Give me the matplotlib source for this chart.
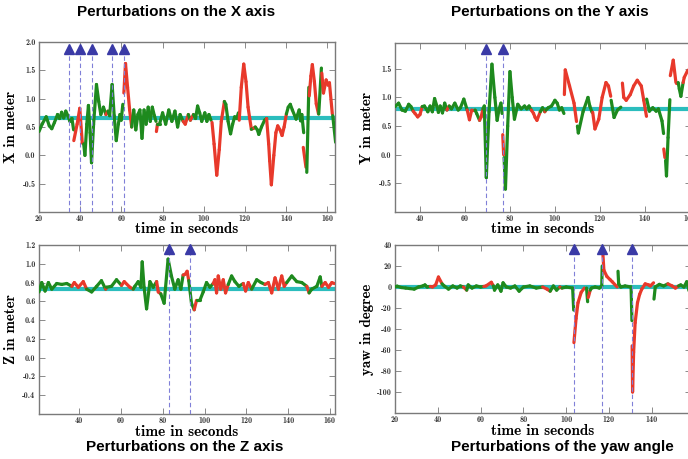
import matplotlib
matplotlib.use('Agg')
import matplotlib.pyplot as plt
from matplotlib.collections import LineCollection
from matplotlib.ticker import FormatStrFormatter

plt.rcParams['axes.unicode_minus'] = False

GREEN = '#1e8a1e'
RED = '#e8392b'
CYAN = '#2bbdbd'
BLUE = '#3a3aa6'
DASH = '#8080d8'

# colour codes per point: g / r continue the trace, G / R start a new piece

# ---- X axis
x_time = [20.0, 21.5, 23.5, 25.0, 26.2, 27.5, 29.0, 30.0, 31.0, 32.0, 33.0, 34.0, 35.0, 36.0, 36.8,
          36.9, 38.5, 39.8, 41.0, 41.7, 42.3, 43.2, 44.0, 44.8, 45.5, 46.5, 47.9, 49.0, 50.0, 51.3,
          52.5, 53.5, 54.3, 55.5, 56.5, 57.5, 58.5, 59.3, 59.9, 60.7,
          61.2, 62.0, 63.0, 64.0, 65.0, 66.0, 67.0, 68.0, 69.0, 70.0, 71.0, 72.0, 73.0, 74.0, 75.0,
          76.0, 76.8, 77.0, 77.5, 78.5, 80.0, 81.5, 83.0, 84.5, 86.0, 87.3, 88.5, 90.0, 91.0, 92.5,
          93.5, 95.0, 96.0, 97.0, 98.0, 99.0, 100.5, 101.5, 102.5, 103.5,
          104.0, 105.0, 106.3, 107.5, 108.5, 110.0, 110.7, 111.8, 113.0, 114.0, 115.0, 116.0, 116.8,
          117.2, 118.2, 119.4, 120.5, 121.5, 122.3, 123.1, 124.3, 125.0, 126.0, 126.7, 128.0, 129.5,
          130.5, 131.5, 132.0, 132.8, 134.0, 135.0, 135.9, 137.0, 138.0, 139.0, 140.1, 141.0, 142.0,
          143.0, 144.8, 146.3, 147.0, 147.6, 148.5,
          148.3, 149.6, 150.0, 151.0, 151.2, 152.0, 152.7, 153.7, 154.6, 155.7,
          155.8, 157.1, 157.3, 158.1, 159.4, 160.3, 161.0, 162.4, 162.6, 164.0]
x_value = [0.42, 0.55, 0.68, 0.52, 0.47, 0.58, 0.72, 0.65, 0.76, 0.66, 0.78, 0.70, 0.60, 0.65, 0.45,
           0.26, 0.55, 0.83, 0.22, 0.20, 0.00, 0.55, 0.88, 0.40, -0.13, 0.55, 1.25, 0.95, 0.72, 0.85,
           0.72, 0.78, 0.70, 1.25, 0.70, 0.26, 0.55, 0.72, 0.62, 0.90,
           1.10, 1.62, 1.20, 0.80, 0.50, 0.80, 0.45, 0.72, 0.80, 0.30, 0.80, 0.55, 0.85, 0.60, 0.85,
           0.70, 0.60, 0.42, 0.55, 0.55, 0.75, 0.55, 0.80, 0.60, 0.78, 0.50, 0.72, 0.60, 0.55, 0.72,
           0.62, 0.72, 0.65, 0.87, 0.75, 0.60, 0.75, 0.60, 0.72, 0.62,
           0.58, 0.20, -0.35, 0.10, 0.60, 0.95, 0.90, 0.60, 0.38, 0.55, 0.68, 0.65, 0.75,
           0.62, 1.20, 1.61, 1.30, 0.85, 0.65, 0.46, 0.48, 0.50, 0.45, 0.37, 0.50, 0.62,
           0.65, 0.20, -0.10, -0.52, 0.00, 0.40, 0.52, 0.45, 0.35, 0.50, 0.73, 0.85, 0.90,
           0.80, 0.64, 0.80, 0.61, 0.72, 0.40,
           0.14, -0.21, -0.30, 1.20, 1.05, 1.40, 1.60, 1.30, 0.91, 0.73,
           0.73, 1.54, 1.45, 1.10, 1.33, 1.24, 1.28, 0.73, 0.70, 0.23]
x_color = ('G' + 'g' * 14
           + 'R' + 'r' * 4 + 'g' * 10
           + 'gr' + 'g' * 8
           + 'R' + 'r' * 4 + 'g' * 10
           + 'ggRr' + 'g' * 9 + 'rr'
           + 'gr' + 'g' * 8
           + 'R' + 'r' * 5 + 'g' * 7
           + 'R' + 'r' * 6 + 'gr' + 'g' * 4
           + 'g' + 'r' * 10 + 'gg'
           + 'g' * 6
           + 'RrGgR' + 'r' * 5
           + 'GgR' + 'r' * 5 + 'Gg')
x_ref = 0.66
x_marks = [34.5, 40.0, 45.5, 55.5, 61.5]

# ---- Y axis
y_time = [29.0, 30.5, 32.0, 33.5, 35.0, 36.0, 37.0, 37.8, 39.0, 40.0, 41.0, 42.0, 43.5, 44.5, 45.5,
          46.5, 47.5, 48.2, 49.0, 50.0, 51.0, 52.0, 53.0, 54.0, 55.5, 57.0, 58.0, 59.5, 61.0, 62.0,
          63.0, 64.5, 65.2, 66.5, 67.2, 68.0, 68.6, 69.5, 70.7, 72.0, 73.3, 74.3, 75.2, 76.0, 76.5,
          76.8, 77.2, 77.4, 78.0, 79.0, 80.0, 81.0, 82.0, 83.5, 85.0, 86.5, 87.5, 88.5, 89.5, 90.5,
          91.2, 92.0, 93.5, 94.5, 95.5, 96.0, 97.0, 98.5, 100.0, 101.0, 102.0, 103.0, 104.0,
          104.2, 104.6, 106.5, 108.5, 109.6, 110.0, 110.4, 112.5, 114.7, 115.5, 116.5,
          116.8, 117.8, 119.5, 121.0, 122.7, 123.8, 124.8, 125.0, 126.3, 127.8, 129.3,
          130.0, 130.6, 131.7, 133.5, 135.0, 136.6, 138.4, 139.5, 140.7,
          140.8, 142.0, 143.5, 145.0, 146.0, 147.6, 148.3, 148.4, 148.9,
          149.2, 149.6, 150.3, 151.1, 151.3, 152.6, 153.8, 154.8, 155.3, 156.0, 157.0, 157.5, 158.9, 160.5]
y_value = [0.84, 0.90, 0.78, 0.76, 0.88, 0.84, 0.76, 0.72, 0.66, 0.70, 0.84, 0.85, 0.75, 0.85, 0.75,
           0.98, 0.85, 0.74, 0.85, 0.73, 0.90, 0.78, 0.85, 0.80, 0.90, 0.78, 0.82, 0.97, 0.78, 0.61,
           0.78, 0.78, 0.72, 0.60, 0.66, 0.80, 0.85, -0.40, 0.75, 1.58, 1.00, 0.60, 0.80, 0.90, 0.72,
           0.35, 0.00, -0.05, -0.60, 0.50, 1.45, 1.00, 0.62, 0.88, 0.80, 0.85, 0.80, 0.85, 0.78, 0.72,
           0.65, 0.60, 0.75, 0.82, 0.75, 0.78, 0.82, 0.85, 0.95, 0.90, 0.78, 0.82, 0.72,
           1.05, 1.48, 1.20, 0.90, 0.58, 0.50, 0.38, 0.75, 1.00, 0.85, 0.74,
           0.74, 0.45, 0.62, 1.00, 1.26, 1.20, 1.02, 0.95, 0.65, 0.78, 0.83,
           1.25, 1.00, 0.95, 1.05, 1.20, 1.30, 1.20, 0.95, 0.67,
           0.97, 0.76, 0.82, 0.76, 0.80, 0.59, 0.37, 0.10, -0.05,
           -0.10, -0.37, 0.30, 0.96, 1.38, 1.65, 1.26, 1.26, 1.15, 1.02, 1.26, 1.35, 1.46, 1.52]
y_color = ('G' + 'g' * 6 + 'r' * 4 + 'g' * 4
           + 'g' * 7 + 'r' + 'g' * 6 + 'r'
           + 'rrggrr' + 'g' * 9
           + 'RrG' + 'g' * 11 + 'r'
           + 'rrrggr' + 'g' * 7
           + 'R' + 'r' * 4 + 'G' + 'g' * 5
           + 'R' + 'r' * 6 + 'G' + 'g' * 3
           + 'R' + 'r' * 8
           + 'G' + 'g' * 6 + 'Rr'
           + 'G' + 'g' * 3 + 'R' + 'r' * 3 + 'g' * 3 + 'r' * 3)
y_ref = 0.80
y_marks = [69.2, 76.8]

# ---- Z axis
z_time = [20.7, 22.0, 23.6, 25.2, 26.8, 29.2, 31.6, 34.0, 36.4, 37.6, 39.5, 41.9, 43.5, 45.9, 48.3,
          50.6, 52.6, 53.0, 55.4, 57.8, 60.2, 61.5, 64.2, 65.8, 66.6, 68.2, 69.5, 70.1, 71.0, 72.2,
          73.8, 75.4, 77.0, 77.8, 79.0, 80.6, 82.5, 84.1, 85.7, 87.3, 88.6, 89.7, 90.8, 91.6, 92.4,
          93.7, 95.0, 96.1, 97.7, 99.3, 100.9, 102.5, 104.1, 104.9, 105.7, 106.5, 107.7, 108.9, 110.0,
          111.3, 112.9, 114.5, 116.4, 118.5, 119.6, 120.9, 122.5, 124.9, 127.0, 128.9, 130.5, 132.1,
          133.7, 135.3, 136.9, 138.1, 139.3, 141.7, 144.1, 146.5, 148.9, 150.0, 151.3, 153.7, 155.3,
          156.1, 157.7, 159.3, 160.9, 162.0]
z_value = [0.70, 0.80, 0.71, 0.80, 0.73, 0.79, 0.78, 0.79, 0.76, 0.80, 0.75, 0.81, 0.73, 0.70, 0.76,
           0.82, 0.73, 0.75, 0.76, 0.83, 0.77, 0.81, 0.75, 0.73, 0.76, 0.81, 0.75, 1.02, 0.75, 0.52,
           0.81, 0.75, 0.81, 0.70, 0.68, 0.58, 1.05, 0.87, 0.73, 0.83, 0.73, 0.88, 0.89, 0.92, 0.82,
           0.58, 0.51, 0.61, 0.61, 0.70, 0.80, 0.75, 0.79, 0.83, 0.69, 0.87, 0.73, 0.83, 0.69,
           0.78, 0.87, 0.81, 0.76, 0.79, 0.71, 0.80, 0.73, 0.83, 0.80, 0.78, 0.80, 0.69,
           0.85, 0.73, 0.87, 0.76, 0.80, 0.87, 0.81, 0.80, 0.76, 0.69, 0.73, 0.76, 0.86,
           0.76, 0.80, 0.75, 0.80, 0.79]
z_color = ('G' + 'g' * 8 + 'r' * 4 + 'gg'
           + 'ggrgggrrr' + 'g' * 6
           + 'gggrr' + 'g' * 7 + 'rrr'
           + 'ggr' + 'g' * 5 + 'r' * 6
           + 'r' + 'g' * 4 + 'rrrgggrr'
           + 'r' * 5 + 'g' * 4 + 'rggg'
           + 'grrrr')
z_ref = 0.73
z_marks = [83.0, 93.0]

# ---- yaw angle
w_time = [20.0, 21.0, 23.0, 25.0, 27.0, 29.0, 31.0, 33.0, 34.0, 35.0, 36.5, 37.5, 39.0, 40.3, 42.0,
          43.0, 45.0, 47.0, 49.0, 50.5, 52.0, 53.5, 54.2, 56.0, 58.0, 60.0, 61.5, 62.5, 65.0, 66.0,
          66.5, 68.0, 69.5, 70.5, 72.0, 74.0, 76.0, 78.0, 80.0, 83.0, 86.0, 89.0, 91.0, 92.5, 94.0,
          95.5, 97.0, 98.0, 100.0, 103.0, 103.5,
          103.6, 104.6, 105.5, 107.0, 108.5, 109.5, 110.0, 110.3, 111.2, 111.8, 113.5, 115.5, 116.6,
          116.8, 117.0, 117.6, 119.0, 120.5, 121.5, 123.8, 124.2, 124.5, 125.5, 127.5, 130.3, 130.7,
          130.8, 131.0, 131.5, 132.2, 133.3, 134.3, 135.3, 136.9, 138.5, 139.3, 140.8,
          141.0, 141.6, 143.5, 145.5, 147.5, 149.5, 151.0, 152.5, 153.5, 155.0, 156.3, 157.8]
w_value = [0.0, 0.8, -0.5, -1.0, -1.5, -2.0, 0.0, 1.0, 2.0, 0.0, 0.5, 0.0, 2.0, 9.5, 3.0,
           1.0, -2.0, 1.0, -1.0, 1.0, 0.0, -3.0, 2.0, -1.0, 1.0, 0.0, 0.5, 1.0, 4.5, 1.0,
           -3.0, 2.0, -4.0, 4.0, 0.0, -1.0, 1.0, -4.0, 0.0, 1.0, -1.0, 0.0, -2.0, -4.0, 1.0,
           -3.0, 0.0, -1.0, 0.0, -1.0, -22.0,
           -53.0, -30.0, -15.0, -5.0, -1.0, -1.0, -14.0, -10.0, -3.0, -1.0, 0.0, -1.0, 1.0,
           20.0, 36.0, 16.0, 10.0, 7.0, 5.0, 0.0, 15.0, 3.0, 0.0, 1.0, 0.0, -32.0,
           -56.0, -100.0, -62.0, -34.0, -15.0, -7.0, -2.0, 3.0, 2.0, 1.0, 4.0,
           -11.5, 0.0, 2.5, 1.0, 3.0, 1.0, -1.0, 1.0, 2.0, 0.0, 5.0, -7.0]
w_color = ('G' + 'g' * 10 + 'r' * 4
           + 'g' * 6 + 'r' + 'g' * 5 + 'rrr'
           + 'g' * 12 + 'rrg'
           + 'ggrggg'
           + 'R' + 'r' * 4 + 'GgRr' + 'g' * 4
           + 'gR' + 'r' * 5 + 'G' + 'g' * 5
           + 'R' + 'r' * 10
           + 'G' + 'g' * 4 + 'r' * 3 + 'g' * 4)
w_ref = 0.0
w_marks = [103.5, 116.8, 130.9]


def px_axes(fig, left, top, right, bottom):
    W, H = 688.0, 459.0
    return fig.add_axes([left / W, 1 - bottom / H, (right - left) / W, (bottom - top) / H])


def draw_trace(ax, t, v, codes):
    segs, cols = [], []
    for i in range(1, len(t)):
        if codes[i].isupper():
            continue
        segs.append([(t[i - 1], v[i - 1]), (t[i], v[i])])
        cols.append(GREEN if codes[i] == 'g' else RED)
    lc = LineCollection(segs, colors=cols, linewidths=2.3, capstyle='round',
                        joinstyle='round', zorder=3)
    ax.add_collection(lc)


def style(ax, xlim, ylim, xticks, yticks, fmt, ylabel, mark_y, marks, ref, xlab_y, t, v, c):
    ax.axhline(ref, color=CYAN, lw=3, zorder=2)
    draw_trace(ax, t, v, c)
    for m in marks:
        ax.axvline(m, ymax=mark_y, color=DASH, lw=0.8, ls=(0, (4, 2.5)), zorder=4)
        ax.plot([m], [mark_y], marker='^', ms=7.5, color=BLUE, mec=BLUE,
                transform=ax.get_xaxis_transform(), clip_on=False, zorder=6)
    ax.set_xlim(*xlim)
    ax.set_ylim(*ylim)
    ax.set_xticks(xticks)
    ax.set_yticks(yticks)
    ax.yaxis.set_major_formatter(FormatStrFormatter(fmt))
    ax.tick_params(direction='in', top=True, right=True, length=4, width=0.6,
                   color='#777777', labelsize=5.8, pad=2.5)
    for lab in ax.get_xticklabels() + ax.get_yticklabels():
        lab.set_fontfamily('cmb10')
        lab.set_color('#333333')
    for s in ax.spines.values():
        s.set_color('#7a7a7a')
        s.set_linewidth(1.0)
    ax.set_xlabel('time in seconds', fontfamily='cmb10', fontsize=11)
    ax.set_ylabel(ylabel, fontfamily='cmb10', fontsize=10.8)
    ax.xaxis.set_label_coords(0.5, xlab_y)
    ax.yaxis.set_label_coords(-0.07, 0.5)


fig = plt.figure(figsize=(6.88, 4.59), dpi=100)

ax_x = px_axes(fig, 39, 42, 335, 212)
style(ax_x, (20, 163.7), (-1.0, 2.0), range(20, 161, 20), [-0.5, 0.0, 0.5, 1.0, 1.5, 2.0],
      '%.1f', 'X in meter', 0.958, x_marks, x_ref, -0.06, x_time, x_value, x_color)

ax_y = px_axes(fig, 395, 43, 691, 212)
style(ax_y, (28.9, 160.5), (-1.0, 1.95), range(40, 161, 20), [-0.5, 0.0, 0.5, 1.0, 1.5],
      '%.1f', 'Y in meter', 0.962, y_marks, y_ref, -0.06, y_time, y_value, y_color)

ax_z = px_axes(fig, 39, 245, 335, 414)
style(ax_z, (20.7, 162.4), (-0.6, 1.2), range(40, 161, 20),
      [-0.4, -0.2, 0.0, 0.2, 0.4, 0.6, 0.8, 1.0, 1.2],
      '%.1f', 'Z in meter', 0.978, z_marks, z_ref, -0.068, z_time, z_value, z_color)

ax_w = px_axes(fig, 395, 245, 691, 413)
style(ax_w, (20, 158.3), (-120, 40), range(20, 141, 20), range(-100, 41, 20),
      '%d', 'yaw in degree', 0.978, w_marks, w_ref, -0.068, w_time, w_value, w_color)

tfont = dict(fontfamily='Liberation Sans', fontweight='bold', fontsize=11, ha='center', va='center')
fig.text(176 / 688, 1 - 12 / 459, 'Perturbations on the X axis', **tfont)
fig.text(550 / 688, 1 - 12 / 459, 'Perturbations on the Y axis', **tfont)
fig.text(185 / 688, 1 - 447 / 459, 'Perturbations on the Z axis', **tfont)
fig.text(562 / 688, 1 - 447 / 459, 'Perturbations of the yaw angle', **tfont)

fig.savefig('out.png', dpi=100, facecolor='white')
